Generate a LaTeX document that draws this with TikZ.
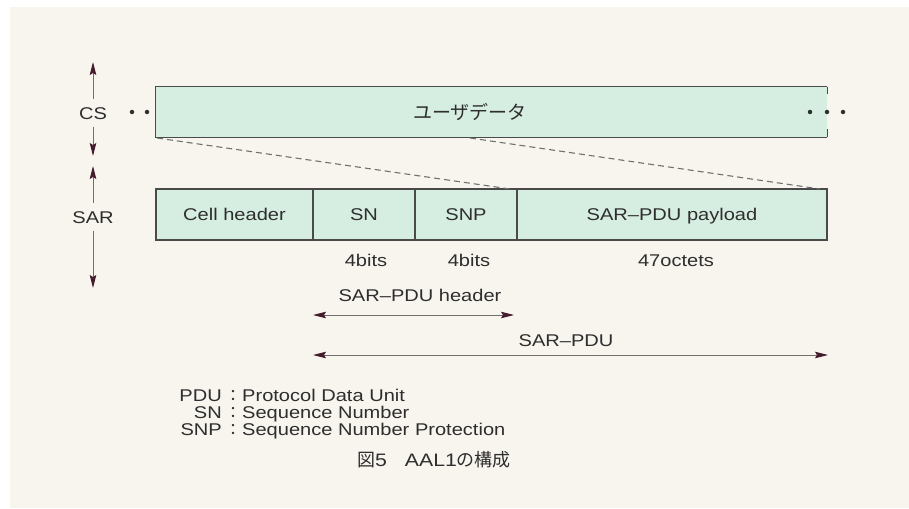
\documentclass[tikz,border=0pt]{standalone}
\usepackage{fontspec}
\setmainfont{Liberation Sans}[FakeStretch=1.18]
\newfontfamily\jpfont{Noto Sans CJK JP}
\usetikzlibrary{arrows.meta}
\definecolor{paper}{HTML}{F7F5EE}
\definecolor{cellfill}{HTML}{D6EEE2}
\definecolor{edge}{HTML}{4A4A4A}
\definecolor{ink}{HTML}{2E2E2E}
\definecolor{shaft}{HTML}{707070}
\definecolor{tipc}{HTML}{451C2C}
\begin{document}
\begin{tikzpicture}[x=1pt,y=-1pt,
  cell/.style={draw=edge, line width=1.1pt, fill=cellfill, minimum height=51pt,
    inner sep=0pt, text=ink, text height=12.2pt, text depth=0pt,
    font=\fontsize{17}{20}\selectfont},
  lbl/.style={text=ink, inner sep=0pt, font=\fontsize{17}{20}\selectfont},
  sidelbl/.style={lbl, minimum height=28pt, text height=12.2pt, text depth=0pt},
  legendtxt/.style={text=ink, inner sep=0pt, font=\fontsize{17}{19}\selectfont},
  dimarrow/.style={draw=shaft, line width=1pt, {Stealth[length=13pt,width=6.5pt,inset=2pt,color=tipc]}-{Stealth[length=13pt,width=6.5pt,inset=2pt,color=tipc]}},
  halfarrow/.style={draw=shaft, line width=1pt, -{Stealth[length=13pt,width=6.5pt,inset=2pt,color=tipc]}},
  guide/.style={draw=shaft, line width=1.1pt, dash pattern=on 6pt off 4pt},
  dot/.style={circle, fill=ink, inner sep=0pt, minimum size=4.5pt}
]
% paper
\fill[white] (0,0) rectangle (909,508);
\fill[paper] (10,7) rectangle (909,508);
\useasboundingbox (0,0) rectangle (909,508);

% CS level: user data stream (open on the right)
\node[fill=cellfill, minimum width=671pt, minimum height=50pt, inner sep=0pt] (ud) at (491.5,112) {};
\draw[edge, line width=1.1pt] (ud.north east) -- (ud.north west) -- (ud.south west) -- (ud.south east);
\draw[edge, line width=1.1pt] (ud.north east) -- ++(0,7);
\draw[edge, line width=1.1pt] (ud.south east) -- ++(0,-8);
\node[text=ink, inner sep=0pt, font=\jpfont\fontsize{19}{22}\selectfont] (udtxt) at (470,112) {ユーザデータ};
\node[dot] (ldot1) at (132,112) {};
\node[dot] (ldot2) at (147,112) {};
\node[dot] (rdot1) at (810,112) {};
\node[dot] (rdot2) at (827,112) {};
\node[dot] (rdot3) at (843,112) {};

% SAR level: ATM cell
\node[cell, minimum width=157pt] (ch) at (234.5,214.5) {Cell header};
\node[cell, minimum width=102pt] (sn) at (364,214.5) {SN};
\node[cell, minimum width=102pt] (snp) at (466,214.5) {SNP};
\node[cell, minimum width=310pt] (pl) at (672,214.5) {SAR–PDU payload};

% mapping of the user data onto the payload
\coordinate (m1a) at (157,138);
\coordinate (m1b) at (510,189);
\coordinate (m2a) at (470,138);
\coordinate (m2b) at (820,189);
\draw[guide] (m1a) -- (m1b);
\draw[guide] (m2a) -- (m2b);

% layer labels with extent arrows
\node[sidelbl] (cs) at (93,113) {CS};
\coordinate (cstop) at (93,62);
\coordinate (csbot) at (93,156);
\draw[halfarrow] (cs) -- (cstop);
\draw[halfarrow] (cs) -- (csbot);
\node[sidelbl] (sar) at (93,217) {SAR};
\coordinate (sartop) at (93,166);
\coordinate (sarbot) at (93,288);
\draw[halfarrow] (sar) -- (sartop);
\draw[halfarrow] (sar) -- (sarbot);

% field sizes
\node[lbl, anchor=base] (snsz) at (366,266) {4bits};
\node[lbl, anchor=base] (snpsz) at (469,266) {4bits};
\node[lbl, anchor=base] (plsz) at (676,266) {47octets};

% extents
\node[lbl, anchor=base] (hdrlbl) at (420,301) {SAR–PDU header};
\coordinate (h1) at (313,315);
\coordinate (h2) at (514,315);
\draw[dimarrow] (h1) -- (h2);
\node[lbl, anchor=base] (pdulbl) at (566,346) {SAR–PDU};
\coordinate (p1) at (313,355);
\coordinate (p2) at (828,355);
\draw[dimarrow] (p1) -- (p2);

% abbreviations
\node[legendtxt, anchor=base east] (k1) at (222,401.5) {PDU};
\node[legendtxt, anchor=base east] (k2) at (222,418.5) {SN};
\node[legendtxt, anchor=base east] (k3) at (222,435.5) {SNP};
\node[legendtxt, font=\jpfont\fontsize{16}{19}\selectfont, anchor=base] (c1) at (233,401.5) {：};
\node[legendtxt, font=\jpfont\fontsize{16}{19}\selectfont, anchor=base] (c2) at (233,418.5) {：};
\node[legendtxt, font=\jpfont\fontsize{16}{19}\selectfont, anchor=base] (c3) at (233,435.5) {：};
\node[legendtxt, anchor=base west] (d1) at (242,401.5) {Protocol Data Unit};
\node[legendtxt, anchor=base west] (d2) at (242,418.5) {Sequence Number};
\node[legendtxt, anchor=base west] (d3) at (242,435.5) {Sequence Number Protection};

% caption
\node[text=ink, inner sep=0pt, font=\jpfont\fontsize{18}{22}\selectfont] (cap) at (434,460)
  {図{\rmfamily\fontsize{18}{22}\selectfont 5}　{\rmfamily\fontsize{18}{22}\selectfont AAL1}の構成};
\end{tikzpicture}
\end{document}
